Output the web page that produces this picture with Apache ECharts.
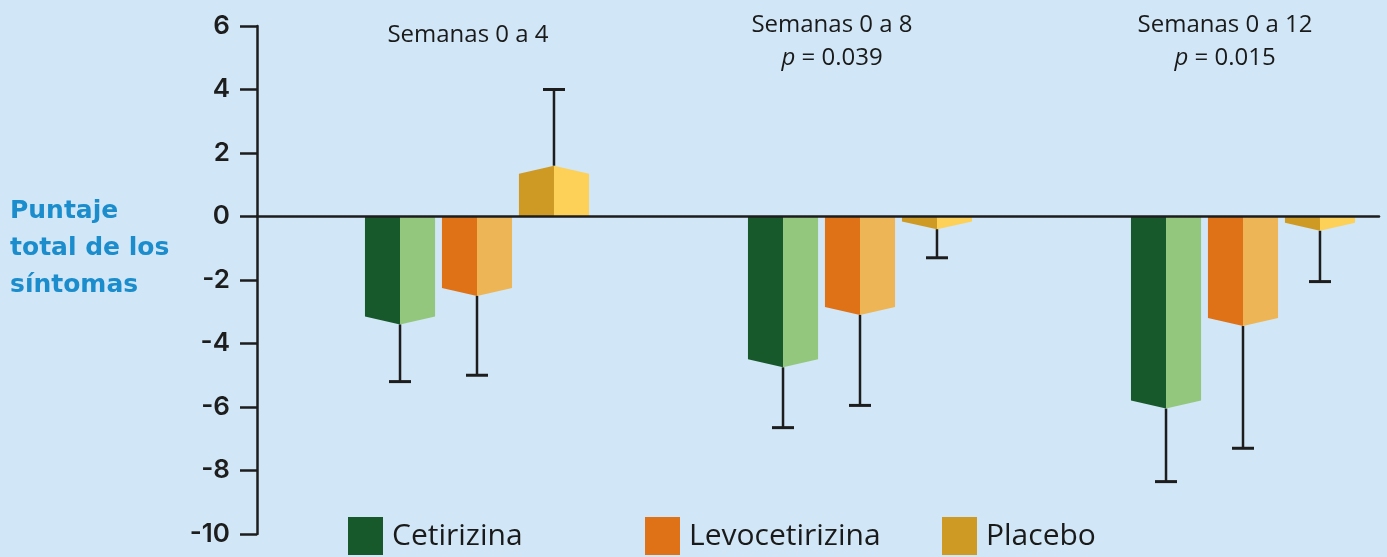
<!DOCTYPE html>
<html>
<head>
<meta charset="utf-8">
<script src="https://cdn.jsdelivr.net/npm/echarts@6/dist/echarts.min.js"></script>
<style>
  html, body { margin: 0; padding: 0; background: #d1e6f6; }
  #main { width: 1387px; height: 557px; }
</style>
</head>
<body>
<div id="main"></div>
<script>
// grupos (semanas) y valores
var categories = ['Semanas 0 a 4', 'Semanas 0 a 8', 'Semanas 0 a 12'];
var pValues = ['', '0.039', '0.015'];
var drugs = ['Cetirizina', 'Levocetirizina', 'Placebo'];

var cetirizina = [-3.4, -4.75, -6.05];
var cetirizinaErr = [-5.2, -6.65, -8.35];
var levocetirizina = [-2.5, -3.1, -3.45];
var levocetirizinaErr = [-5.0, -5.95, -7.3];
var placebo = [1.6, -0.4, -0.45];
var placeboErr = [4.0, -1.3, -2.05];

var yMin = -10, yMax = 6, yStep = 2;

var darkColors = ['#17592b', '#df7117', '#cf9a23'];
var lightColors = ['#93c77d', '#edb555', '#fdd157'];

function barSeries(idx, means, errs) {
  var dark = darkColors[idx], light = lightColors[idx];
  return {
    name: drugs[idx],
    type: 'custom',
    xAxisIndex: 1,
    yAxisIndex: 1,
    itemStyle: { color: dark },
    data: means.map(function (m, i) { return [i, m, errs[i]]; }),
    renderItem: function (params, api) {
      var cat = api.value(0), v = api.value(1), e = api.value(2);
      var p0 = api.coord([cat, 0]);
      var p1 = api.coord([cat, v]);
      var pe = api.coord([cat, e]);
      var catW = api.size([1, 0])[0];
      var w = catW * 0.183;
      var cx = p0[0] + (idx - 1) * catW * 0.201;
      var y0 = p0[1], y1 = p1[1];
      var dir = y1 > y0 ? 1 : -1;
      var tip = Math.min(8, Math.abs(y1 - y0) * 0.6);
      var yc = y1 - dir * tip;
      var l = cx - w / 2, r = cx + w / 2;
      return {
        type: 'group',
        children: [
          { type: 'polygon', shape: { points: [[l, y0], [cx, y0], [cx, y1], [l, yc]] }, style: { fill: dark } },
          { type: 'polygon', shape: { points: [[cx, y0], [r, y0], [r, yc], [cx, y1]] }, style: { fill: light } },
          { type: 'line', shape: { x1: cx, y1: y1, x2: cx, y2: pe[1] }, style: { stroke: '#1d1d1d', lineWidth: 2.5 } },
          { type: 'line', shape: { x1: cx - 11, y1: pe[1], x2: cx + 11, y2: pe[1] }, style: { stroke: '#1d1d1d', lineWidth: 3 } }
        ]
      };
    }
  };
}

// titulos de cada grupo
var titleX = [468, 832, 1225];
var titleGraphics = [];
categories.forEach(function (c, i) {
  titleGraphics.push({
    type: 'text',
    x: titleX[i],
    y: pValues[i] ? 25 : 35,
    style: {
      text: c,
      align: 'center',
      verticalAlign: 'middle',
      fill: '#1a1a1a',
      font: '24px "Open Sans"'
    }
  });
  if (pValues[i]) {
    titleGraphics.push({
      type: 'text',
      x: titleX[i],
      y: 58,
      style: {
        text: '{i|p} = ' + pValues[i],
        align: 'center',
        verticalAlign: 'middle',
        fill: '#1a1a1a',
        font: '24px "Open Sans"',
        rich: { i: { fontStyle: 'italic', fontSize: 24, fontFamily: 'Open Sans', fill: '#1a1a1a' } }
      }
    });
  }
});

var legendLefts = [348, 645, 942];

var myChart = echarts.init(document.getElementById('main'));
var option = {
  backgroundColor: '#d1e6f6',
  animation: false,
  grid: [
    { left: 257, right: 8, top: 26, bottom: 23 },
    { left: 477, width: 766, top: 26, bottom: 23 }
  ],
  legend: drugs.map(function (d, i) {
    return {
      data: [d],
      left: legendLefts[i],
      top: 517,
      padding: 0,
      icon: 'rect',
      itemWidth: 35,
      itemHeight: 38,
      selectedMode: false,
      textStyle: { fontSize: 30, color: '#1a1a1a', fontFamily: 'Open Sans', padding: [0, 0, 0, 4] }
    };
  }),
  xAxis: [
    {
      gridIndex: 0, type: 'category', data: categories, z: 5,
      axisLine: { onZero: true, lineStyle: { color: '#1d1d1d', width: 2.5 } },
      axisTick: { show: false }, axisLabel: { show: false }
    },
    {
      gridIndex: 1, type: 'category', data: categories, show: false, boundaryGap: false
    }
  ],
  yAxis: [
    {
      gridIndex: 0, type: 'value', min: yMin, max: yMax, interval: yStep, z: 5,
      axisLine: { show: true, lineStyle: { color: '#1d1d1d', width: 2.5 } },
      axisTick: { show: true, length: 17, lineStyle: { color: '#1d1d1d', width: 2.5 } },
      axisLabel: { margin: 27, fontSize: 26, color: '#1d1d1d', fontFamily: 'Inter', fontWeight: 600 },
      splitLine: { show: false }
    },
    {
      gridIndex: 1, type: 'value', min: yMin, max: yMax, interval: yStep, show: false,
      splitLine: { show: false }
    }
  ],
  graphic: [
    {
      type: 'text',
      left: 10,
      top: 193,
      style: {
        text: 'Puntaje\ntotal de los\nsíntomas',
        fill: '#1b8dcd',
        font: 'bold 25px "DejaVu Sans"',
        lineHeight: 37
      }
    }
  ].concat(titleGraphics),
  series: [
    barSeries(0, cetirizina, cetirizinaErr),
    barSeries(1, levocetirizina, levocetirizinaErr),
    barSeries(2, placebo, placeboErr)
  ]
};
myChart.setOption(option);
</script>
</body>
</html>
